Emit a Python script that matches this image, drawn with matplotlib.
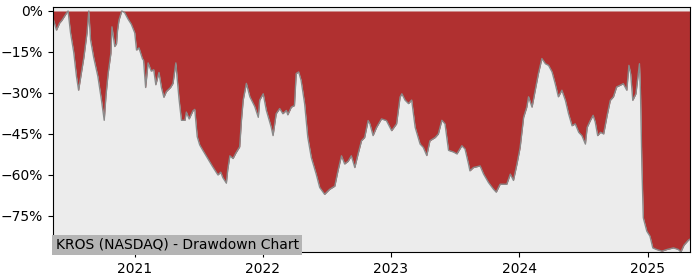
"""
KROS drawdown chart — percentage below running peak, 2020-2025.
"""

import pandas as pd
import matplotlib
matplotlib.use("Agg")
import matplotlib.pyplot as plt
import matplotlib.dates as mdates
from matplotlib.ticker import FuncFormatter

TITLE = "KROS (NASDAQ) - Drawdown Chart"

# ── Data ──────────────────────────────────────────────────────────────────────

dates = [
    "2020-05-13", "2020-05-23", "2020-06-01", "2020-06-07", "2020-06-20", "2020-06-25",
    "2020-07-02", "2020-07-11", "2020-07-19", "2020-07-25", "2020-07-30", "2020-08-09",
    "2020-08-18", "2020-08-23", "2020-08-28", "2020-09-06", "2020-09-18", "2020-09-28",
    "2020-10-06", "2020-10-11", "2020-10-17", "2020-10-25", "2020-10-28", "2020-11-05",
    "2020-11-10", "2020-11-13", "2020-11-17", "2020-11-25", "2020-12-03", "2020-12-13",
    "2020-12-22", "2021-01-01", "2021-01-06", "2021-01-13", "2021-01-23", "2021-01-26",
    "2021-02-01", "2021-02-08", "2021-02-17", "2021-02-24", "2021-03-02", "2021-03-11",
    "2021-03-18", "2021-03-25", "2021-04-01", "2021-04-13", "2021-04-20", "2021-04-28",
    "2021-05-07", "2021-05-14", "2021-05-24", "2021-05-28", "2021-06-05", "2021-06-16",
    "2021-06-21", "2021-06-28", "2021-07-05", "2021-07-14", "2021-07-28", "2021-08-11",
    "2021-08-26", "2021-09-03", "2021-09-09", "2021-09-19", "2021-09-23", "2021-09-29",
    "2021-10-08", "2021-10-16", "2021-10-27", "2021-11-01", "2021-11-06", "2021-11-15",
    "2021-11-25", "2021-12-09", "2021-12-19", "2021-12-23", "2022-01-02", "2022-01-11",
    "2022-01-25", "2022-01-30", "2022-02-08", "2022-02-18", "2022-02-27", "2022-03-09",
    "2022-03-13", "2022-03-23", "2022-04-01", "2022-04-06", "2022-04-13", "2022-04-20",
    "2022-04-30", "2022-05-09", "2022-05-19", "2022-06-02", "2022-06-12", "2022-06-26",
    "2022-07-10", "2022-07-25", "2022-08-03", "2022-08-13", "2022-08-22", "2022-09-01",
    "2022-09-10", "2022-09-20", "2022-09-29", "2022-10-09", "2022-10-18", "2022-10-28",
    "2022-11-02", "2022-11-11", "2022-11-21", "2022-12-05", "2022-12-19", "2023-01-03",
    "2023-01-17", "2023-01-27", "2023-02-01", "2023-02-10", "2023-02-20", "2023-03-01",
    "2023-03-11", "2023-03-25", "2023-04-03", "2023-04-13", "2023-04-22", "2023-05-07",
    "2023-05-16", "2023-05-26", "2023-06-04", "2023-06-14", "2023-06-28", "2023-07-08",
    "2023-07-22", "2023-07-31", "2023-08-10", "2023-08-14", "2023-08-24", "2023-09-12",
    "2023-09-22", "2023-10-06", "2023-10-20", "2023-10-28", "2023-11-08", "2023-11-27",
    "2023-12-07", "2023-12-16", "2023-12-26", "2024-01-04", "2024-01-14", "2024-01-23",
    "2024-01-28", "2024-02-07", "2024-02-16", "2024-02-25", "2024-03-06", "2024-03-16",
    "2024-03-25", "2024-04-04", "2024-04-13", "2024-04-22", "2024-05-02", "2024-05-12",
    "2024-05-21", "2024-05-31", "2024-06-09", "2024-06-19", "2024-06-28", "2024-07-08",
    "2024-07-13", "2024-07-22", "2024-07-30", "2024-08-05", "2024-08-12", "2024-08-20",
    "2024-08-29", "2024-09-08", "2024-09-17", "2024-09-26", "2024-10-05", "2024-10-15",
    "2024-10-24", "2024-11-03", "2024-11-09", "2024-11-14", "2024-11-20", "2024-11-29",
    "2024-12-09", "2024-12-12", "2024-12-16", "2024-12-20", "2024-12-30", "2025-01-08",
    "2025-01-16", "2025-01-27", "2025-02-11", "2025-02-25", "2025-03-16", "2025-03-30",
    "2025-04-06", "2025-04-15", "2025-04-28", "2025-05-02",
]

drawdown_pct = [
    -2.6, -7.0, -4.4, -3.5, -0.9, 0.0,
    -8.0, -15.0, -24.0, -29.0, -25.0, -17.0,
    -8.0, 0.0, -10.5, -17.0, -24.0, -32.5,
    -40.0, -31.0, -23.0, -15.5, -5.8, -13.0,
    -12.0, -7.0, -3.4, 0.0, -0.6, -3.0,
    -4.8, -8.0, -14.3, -13.5, -17.5, -18.0,
    -28.0, -19.0, -22.0, -21.5, -27.0, -22.5,
    -28.0, -31.6, -29.5, -28.0, -26.5, -19.0,
    -32.0, -40.0, -40.0, -37.0, -39.5, -36.5,
    -36.0, -46.0, -49.0, -51.0, -54.0, -57.0,
    -60.0, -59.0, -61.0, -63.0, -58.0, -53.0,
    -54.0, -52.0, -49.7, -40.0, -32.6, -26.5,
    -31.4, -35.0, -38.9, -32.6, -30.3, -36.4,
    -42.6, -45.6, -37.6, -35.7, -37.6, -36.4,
    -38.0, -35.2, -34.6, -22.9, -22.3, -25.4,
    -33.9, -46.2, -53.6, -59.7, -64.6, -67.1,
    -65.3, -64.1, -58.5, -53.0, -56.0, -55.0,
    -53.0, -57.3, -52.5, -47.5, -46.3, -40.1,
    -41.3, -45.6, -42.6, -39.5, -40.1, -43.8,
    -41.3, -31.5, -30.3, -32.6, -33.9, -32.6,
    -42.6, -48.7, -49.9, -52.9, -47.5, -46.3,
    -45.0, -40.0, -41.3, -51.0, -51.6, -52.3,
    -49.3, -50.5, -56.0, -58.5, -57.3, -56.7,
    -59.7, -62.8, -65.2, -66.3, -63.4, -63.4,
    -59.7, -62.0, -56.0, -50.0, -38.9, -35.2,
    -31.4, -35.2, -29.0, -23.0, -17.4, -19.3,
    -19.9, -22.3, -26.6, -31.4, -29.0, -32.7,
    -37.6, -42.0, -41.3, -44.4, -45.6, -48.7,
    -42.6, -40.1, -38.2, -40.6, -45.6, -44.4,
    -45.0, -38.2, -32.7, -31.4, -27.8, -27.2,
    -26.6, -29.0, -19.9, -23.0, -32.7, -30.3,
    -19.3, -30.0, -57.3, -75.7, -80.6, -82.4,
    -86.7, -87.3, -87.9, -87.3, -86.7, -87.3,
    -88.2, -85.7, -83.8, -83.5,
]

RED  = "#b03030"
BG   = "#ececec"
EDGE = "#8a8a8a"


def pct_fmt(v, _pos):
    return f"{v:.0f}%".replace("-", "\u2212")


def run():
    x = pd.to_datetime(pd.Series(dates))
    y = pd.Series(drawdown_pct)

    fig = plt.figure(figsize=(7, 2.8), dpi=100)
    ax = fig.add_axes([0.0757, 0.1, 0.91, 0.875])
    ax.set_facecolor(BG)

    ax.plot(x, y, color=EDGE, linewidth=1.0)
    ax.fill_between(x, y, 0, color=RED, linewidth=0)

    ax.set_xlim(x.min(), x.max())
    ax.set_ylim(y.min(), 1.46)
    ax.set_yticks([0, -15, -30, -45, -60, -75])
    ax.yaxis.set_major_formatter(FuncFormatter(pct_fmt))
    ax.xaxis.set_major_locator(mdates.YearLocator())
    ax.xaxis.set_major_formatter(mdates.DateFormatter("%Y"))
    ax.tick_params(labelsize=10)

    ax.text(0.004, 0.0, TITLE, transform=ax.transAxes, fontsize=10,
            ha="left", va="bottom",
            bbox=dict(facecolor="#b4b4b4", edgecolor="none", pad=2.5))

    fig.savefig("out.png", dpi=100)
    plt.close(fig)


if __name__ == "__main__":
    run()
